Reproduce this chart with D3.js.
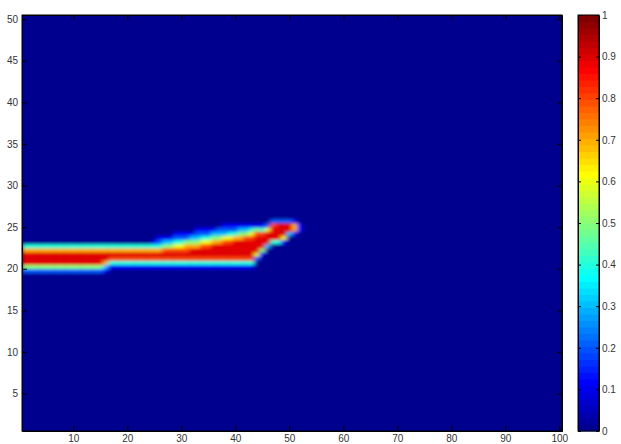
<!DOCTYPE html>
<head>
<meta charset="utf-8">
<style>
body { margin: 0; background: #fff; }
.tick text { font-family: "Liberation Sans", Arial, sans-serif; font-size: 10px; fill: #333; }
</style>
</head>
<body>
<svg width="621" height="444"></svg>
<script src="https://cdn.jsdelivr.net/npm/d3@7"></script>
<script>
// y position (row centre, half-unit rows) of each character in a band profile, top to bottom
var bandRows = [26.25, 25.75, 25.25, 24.75, 24.25, 23.75, 23.25, 22.75, 22.25, 21.75, 21.25, 20.75, 20.25, 19.75];

// one profile per column (x = 1..52), digit d means value d/10; all other cells are 0
var bandProfiles = [
  "00000004799952","00000004799952","00000004799952","00000004799952","00000004799952",
  "00000004799952","00000004799952","00000004799952","00000004799952","00000004799952",
  "00000004799952","00000004799952","00000004799952","00000004799952","00000004799952",
  "00000004799731",
  "00000004798410","00000004798410","00000004798410","00000004798410",
  "00000004798410","00000004798410","00000004798410","00000004798410",
  "00000014798410","00000124798410","00000135898410","00000135898410",
  "00001246898410","00001246898410","00001257898410","00001357998410",
  "00012357998410","00012468998410","00012468998410","00013579998410",
  "00023579998410","00123689998410","00124689998410","00124799998410",
  "00135799998410","00135899998410","00146899998410",
  "00158999962000","00148999510000","00269993000000","02899940000000",
  "02999940000000","02999610000000","02993000000000","01771000000000",
  "00110000000000"
];

var nCols = 100, nRows = 50;
var xTicks = [10, 20, 30, 40, 50, 60, 70, 80, 90, 100];
var yTicks = [5, 10, 15, 20, 25, 30, 35, 40, 45, 50];
var cbTicks = [0, 0.1, 0.2, 0.3, 0.4, 0.5, 0.6, 0.7, 0.8, 0.9, 1];

var svg = d3.select("svg");

var x = d3.scaleLinear().domain([0.5, nCols + 0.5]).range([22, 562]);
var y = d3.scaleLinear().domain([0.5, nRows + 0.5]).range([431, 15]);

// jet colormap (matlab, 64 colours)
var jet = d3.scaleLinear()
  .domain([0, 7/63, 23/63, 39/63, 55/63, 1])
  .range(["#00008f", "#0000ff", "#00ffff", "#ffff00", "#ff0000", "#800000"])
  .interpolate(d3.interpolateRgb)
  .clamp(true);

// build cells on half-unit rows
var cells = [];
for (var c = 1; c <= nCols; c++) {
  var prof = bandProfiles[c - 1];
  for (var r = 0; r < nRows * 2; r++) {
    var yc = 0.75 + r * 0.5;
    var v = 0;
    if (prof) {
      var k = bandRows.indexOf(yc);
      if (k >= 0) v = +prof[k] / 10;
    }
    cells.push({col: c, y: yc, value: v});
  }
}

var defs = svg.append("defs");
defs.append("clipPath").attr("id", "plotclip")
  .append("rect")
  .attr("x", x(0.5)).attr("y", y(nRows + 0.5))
  .attr("width", x(nCols + 0.5) - x(0.5))
  .attr("height", y(0.5) - y(nRows + 0.5));
defs.append("filter").attr("id", "soft")
  .attr("x", "-5%").attr("y", "-5%").attr("width", "110%").attr("height", "110%")
  .append("feGaussianBlur").attr("stdDeviation", "2.2 1.5");

var plot = svg.append("g").attr("clip-path", "url(#plotclip)");

plot.append("rect")
  .attr("x", x(0.5)).attr("y", y(nRows + 0.5))
  .attr("width", x(nCols + 0.5) - x(0.5))
  .attr("height", y(0.5) - y(nRows + 0.5))
  .attr("fill", jet(0));

plot.append("g")
  .attr("filter", "url(#soft)")
  .selectAll("rect")
  .data(cells)
  .enter().append("rect")
  .attr("x", function(d){ return x(d.col - 0.5); })
  .attr("y", function(d){ return y(d.y + 0.25); })
  .attr("width", x(1.5) - x(0.5) + 0.4)
  .attr("height", y(0.5) - y(1) + 0.4)
  .attr("fill", function(d){ return jet(d.value); });

// axes, matlab style: ticks inside, box round
svg.append("g")
  .attr("transform", "translate(0," + y(0.5) + ")")
  .call(d3.axisBottom(x).tickValues(xTicks).tickSizeInner(-5).tickSizeOuter(0).tickPadding(4));
svg.append("g")
  .attr("transform", "translate(" + x(0.5) + ",0)")
  .call(d3.axisLeft(y).tickValues(yTicks).tickSizeInner(-5).tickSizeOuter(0).tickPadding(4));
svg.append("g")
  .attr("transform", "translate(0," + y(nRows + 0.5) + ")")
  .call(d3.axisTop(x).tickValues(xTicks).tickSizeInner(-5).tickSizeOuter(0).tickFormat(""));
svg.append("g")
  .attr("transform", "translate(" + x(nCols + 0.5) + ",0)")
  .call(d3.axisRight(y).tickValues(yTicks).tickSizeInner(-5).tickSizeOuter(0).tickFormat(""));

svg.append("rect")
  .attr("x", x(0.5)).attr("y", y(nRows + 0.5))
  .attr("width", x(nCols + 0.5) - x(0.5))
  .attr("height", y(0.5) - y(nRows + 0.5))
  .attr("fill", "none").attr("stroke", "#000").attr("stroke-width", 1);

// colorbar
var cbX = 578, cbW = 21;
var cb = d3.scaleLinear().domain([0, 1]).range([431, 15]);
var steps = d3.range(64);
svg.append("g").selectAll("rect")
  .data(steps)
  .enter().append("rect")
  .attr("x", cbX)
  .attr("y", function(i){ return cb((i + 1) / 64); })
  .attr("width", cbW)
  .attr("height", cb(0) - cb(1 / 64) + 0.5)
  .attr("fill", function(i){ return jet(i / 63); });

svg.append("g")
  .attr("transform", "translate(" + (cbX + cbW) + ",0)")
  .call(d3.axisRight(cb).tickValues(cbTicks).tickSizeInner(-3).tickSizeOuter(0).tickPadding(3)
    .tickFormat(function(d){ return d === 0 || d === 1 ? d : d3.format(".1f")(d); }));
svg.append("g")
  .attr("transform", "translate(" + cbX + ",0)")
  .call(d3.axisLeft(cb).tickValues(cbTicks).tickSizeInner(-3).tickSizeOuter(0).tickFormat(""));

svg.selectAll(".domain").attr("stroke", "#000");
svg.selectAll(".tick line").attr("stroke", "#000");

svg.append("rect")
  .attr("x", cbX).attr("y", cb(1))
  .attr("width", cbW).attr("height", cb(0) - cb(1))
  .attr("fill", "none").attr("stroke", "#000").attr("stroke-width", 1);
</script>
</body>
